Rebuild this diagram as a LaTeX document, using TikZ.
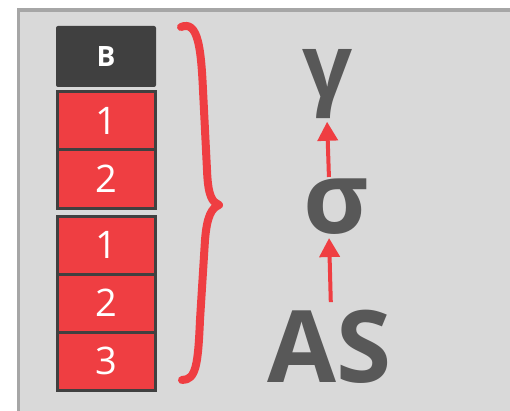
\documentclass[tikz,border=0pt]{standalone}
\usepackage{fontspec}
\setmainfont{Open Sans}
\usetikzlibrary{arrows.meta,positioning}
\definecolor{panel}{HTML}{D9D9D9}
\definecolor{rim}{HTML}{A6A6A6}
\definecolor{dark}{HTML}{404040}
\definecolor{hot}{HTML}{EF3E42}
\definecolor{ink}{HTML}{585858}

\begin{document}
\begin{tikzpicture}[x=1pt,y=1pt,
    cell/.style={draw=dark,fill=hot,line width=3pt,outer sep=0pt,minimum width=98pt,minimum height=58pt,text=white,font=\fontsize{38}{40}\selectfont,inner sep=0pt},
    head/.style={fill=dark,rounded corners=2pt,outer sep=0pt,minimum width=100pt,minimum height=61pt,text=white,font=\bfseries\fontsize{28}{30}\selectfont},
    sym/.style={text=ink,font=\bfseries\fontsize{100}{100}\selectfont,inner sep=0pt},
    up/.style={draw=hot,line width=4pt,-{Triangle[width=20pt,length=19pt]},shorten >=3pt,shorten <=8pt}]
    \useasboundingbox (0,0) rectangle (510,410);
    \clip (0,0) rectangle (510,410);
    \draw[rim,fill=panel,line width=3.5pt] (18.5,-10) rectangle (530,400);
    % stacked blocks
    \node[head] (b) at (106,353.5) {B};
    \node[cell,below=5pt of b] (a1) {1};
    \node[cell,below=0pt of a1] (a2) {2};
    \node[cell,below=8pt of a2] (c1) {1};
    \node[cell,below=0pt of c1] (c2) {2};
    \node[cell,below=0pt of c2] (c3) {3};
    % brace
    \draw[hot,line width=8pt,line cap=round,line join=round]
      (181,383) .. controls (198,390) and (201,362) .. (203,320)
      -- (207,240) .. controls (208,214) and (212,208) .. (219,205)
      .. controls (212,202) and (207,195) .. (205,170)
      -- (200,90) .. controls (198,45) and (196,30) .. (182,30);
    % symbols
    \node[sym,font=\bfseries\fontsize{88}{88}\selectfont] (gam) at (327,326) {γ};
    \node[sym] (sig) at (336,203) {σ};
    \node[sym] (as) at (330,63) {AS};
    \draw[up] ([xshift=1pt]as.north) -- ([xshift=-7pt]sig.south);
    \draw[up,shorten <=2pt] ([xshift=-7pt]sig.north) -- (gam.south);
  \end{tikzpicture}
\end{document}
